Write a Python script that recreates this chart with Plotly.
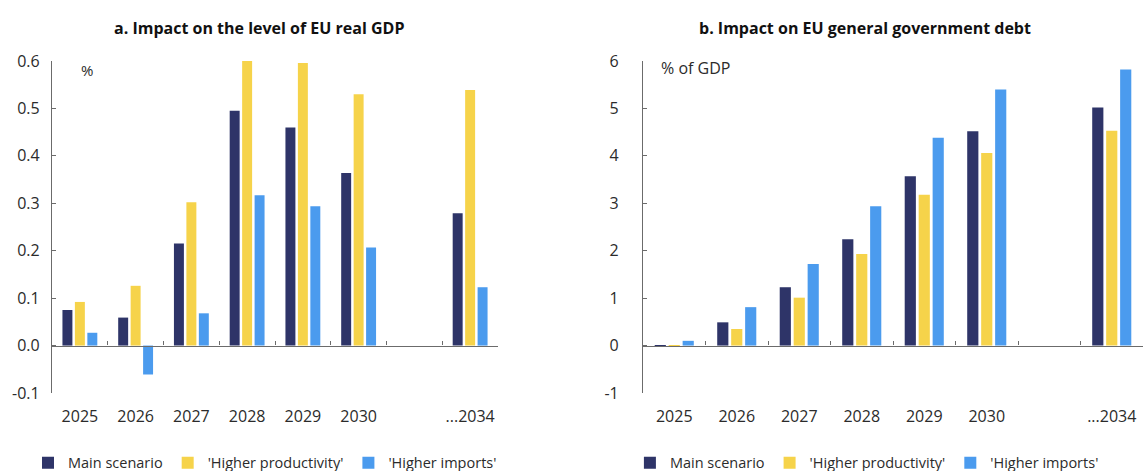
import plotly.graph_objects as go

categories = ["2025", "2026", "2027", "2028", "2029", "2030", " ", "...2034"]
series_names = ["Main scenario", "'Higher productivity'", "'Higher imports'"]

gdp_main = [0.075, 0.059, 0.215, 0.495, 0.460, 0.364, None, 0.279]
gdp_productivity = [0.092, 0.126, 0.302, 0.600, 0.596, 0.530, None, 0.539]
gdp_imports = [0.027, -0.061, 0.068, 0.317, 0.294, 0.207, None, 0.123]

debt_main = [0.01, 0.49, 1.23, 2.24, 3.57, 4.52, None, 5.02]
debt_productivity = [-0.02, 0.35, 1.01, 1.93, 3.18, 4.06, None, 4.53]
debt_imports = [0.10, 0.81, 1.72, 2.94, 4.38, 5.40, None, 5.82]

gdp_ticks = [-0.1, 0.0, 0.1, 0.2, 0.3, 0.4, 0.5, 0.6]
debt_ticks = [-1, 0, 1, 2, 3, 4, 5, 6]

colors = ["#2e3468", "#f6d34a", "#4b9bee"]
FONT = "Open Sans"
TXT = "#2b2b2b"
AX = "#6b6b6b"

fig = go.Figure()
for name, vals, col in zip(series_names, [gdp_main, gdp_productivity, gdp_imports], colors):
    fig.add_trace(go.Bar(x=categories, y=vals, name=name, marker=dict(color=col, line=dict(width=0)),
                         xaxis="x", yaxis="y", legend="legend"))
for name, vals, col in zip(series_names, [debt_main, debt_productivity, debt_imports], colors):
    fig.add_trace(go.Bar(x=categories, y=vals, name=name, marker=dict(color=col, line=dict(width=0)),
                         xaxis="x2", yaxis="y2", legend="legend2"))

W, H = 1143, 471
ml, mr, mt, mb = 52, 0, 61, 78
pw = W - ml - mr
d1 = [0, (498 - ml) / pw]
d2 = [(643 - ml) / pw, 1]
zero_pos = 1 / 7

xcommon = dict(type="category", categoryorder="array", categoryarray=categories,
               range=[-0.5, 7.5], anchor="free", position=zero_pos,
               showline=True, linecolor=AX, linewidth=1.2,
               ticks="inside", tickson="boundaries", ticklen=4, tickcolor=AX,
               showgrid=False, zeroline=False, tickangle=0,
               tickfont=dict(family=FONT, size=16, color=TXT), ticklabelstandoff=56)
ycommon = dict(showline=True, linecolor=AX, linewidth=1.2, ticks="inside", ticklen=4,
               tickcolor=AX, showgrid=False, zeroline=False,
               tickmode="array", tickfont=dict(family=FONT, size=16, color=TXT))

fig.update_layout(
    width=W, height=H, margin=dict(l=ml, r=mr, t=mt, b=mb, autoexpand=False),
    paper_bgcolor="white", plot_bgcolor="white",
    barmode="group", bargap=0.33, bargroupgap=0.2,
    font=dict(family=FONT, color=TXT),
    xaxis=dict(domain=d1, **xcommon),
    xaxis2=dict(domain=d2, **xcommon),
    yaxis=dict(domain=[0, 1], anchor="x", range=[-0.1, 0.6], tickvals=gdp_ticks,
               ticktext=[f"{v:.1f}" for v in gdp_ticks], ticklabelstandoff=8, **ycommon),
    yaxis2=dict(domain=[0, 1], anchor="x2", range=[-1, 6], tickvals=debt_ticks,
                ticktext=[str(v) for v in debt_ticks], ticklabelstandoff=20, **ycommon),
    legend=dict(orientation="h", x=-0.022, xanchor="left", y=-0.21, yanchor="middle",
                font=dict(family=FONT, size=14.5, color=TXT), bgcolor="rgba(0,0,0,0)"),
    legend2=dict(orientation="h", x=d2[0] - 0.012, xanchor="left", y=-0.21, yanchor="middle",
                 font=dict(family=FONT, size=14.5, color=TXT), bgcolor="rgba(0,0,0,0)"),
    annotations=[
        dict(text="<b>a. Impact on the level of EU real GDP</b>", xref="paper", yref="paper",
             x=(259 - ml) / pw, xanchor="center", y=1, yanchor="bottom", yshift=20, showarrow=False,
             font=dict(family=FONT, size=16, color="#111")),
        dict(text="<b>b. Impact on EU general government debt</b>", xref="paper", yref="paper",
             x=(865 - ml) / pw, xanchor="center", y=1, yanchor="bottom", yshift=20, showarrow=False,
             font=dict(family=FONT, size=16, color="#111")),
        dict(text="%", xref="paper", yref="paper", x=(79 - ml) / pw, xanchor="left",
             y=1, yanchor="middle", yshift=-9, showarrow=False,
             font=dict(family=FONT, size=15, color=TXT)),
        dict(text="% of GDP", xref="paper", yref="paper", x=(659 - ml) / pw, xanchor="left",
             y=1, yanchor="middle", yshift=-7, showarrow=False,
             font=dict(family=FONT, size=16, color=TXT)),
    ],
)

fig.write_html("out.html", config={"displayModeBar": False},
               post_script="document.body.style.margin='0px';")
